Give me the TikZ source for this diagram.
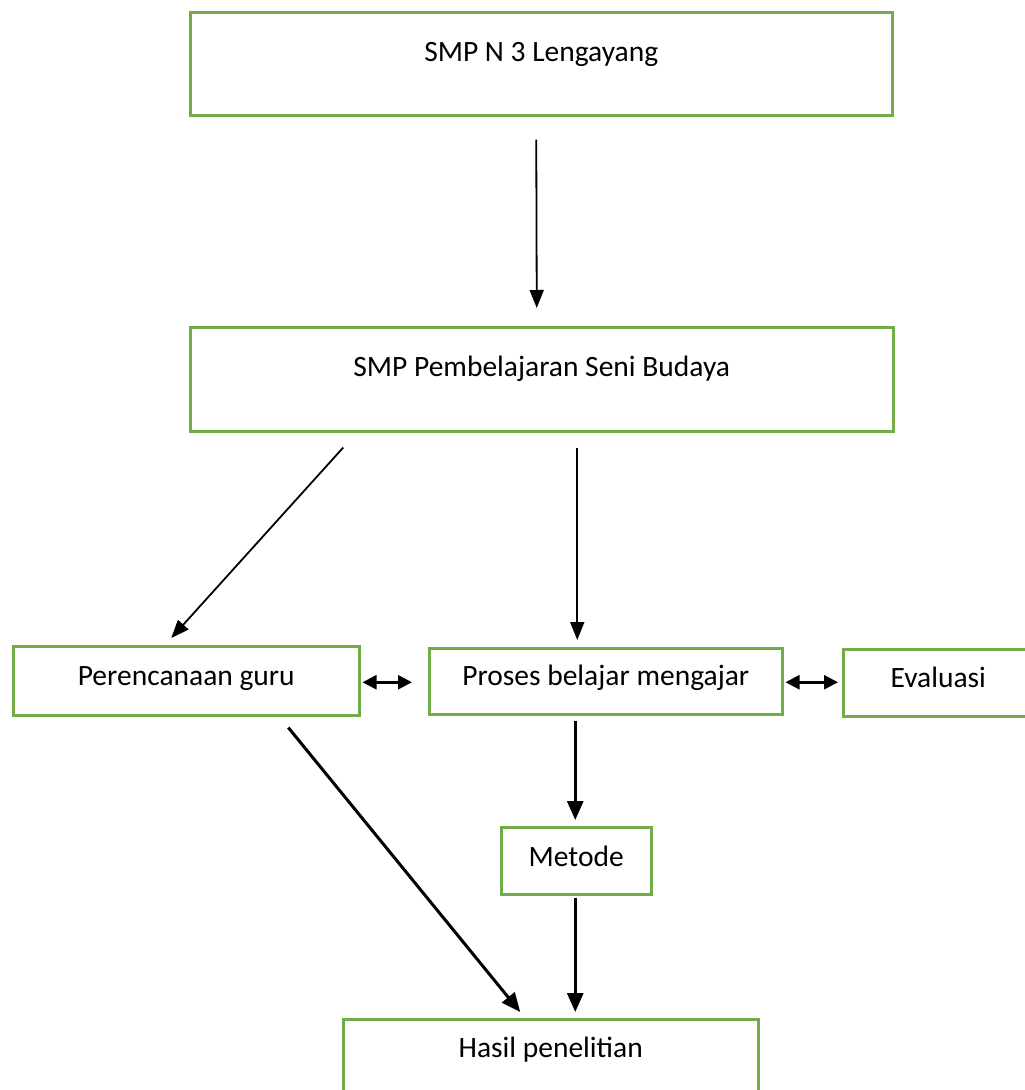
\documentclass[tikz,border=0pt]{standalone}
\usepackage{fontspec}
\setmainfont{Carlito}
\usetikzlibrary{arrows.meta}
\definecolor{boxgreen}{HTML}{70AD47}
\begin{document}
\begin{tikzpicture}[x=1pt,y=-1pt,
  box/.style={draw=boxgreen, line width=2.5pt, rectangle, inner sep=0pt, anchor=north west},
  lbl/.style={font=\fontsize{29.5}{35}\selectfont, anchor=base, inner sep=0pt},
  thinarr/.style={line width=1.8pt, -{Triangle[length=18pt,width=14pt]}},
  thickarr/.style={line width=3pt, -{Triangle[length=19pt,width=16pt]}},
  dblarr/.style={line width=2.5pt, {Triangle[length=14pt,width=14pt]}-{Triangle[length=14pt,width=14pt]}}]
\useasboundingbox (0,0) rectangle (1025,1090);
\clip (0,0) rectangle (1025,1090);

\node[box, minimum width=702pt, minimum height=103pt] (top) at (189,11) {};
\node[lbl] (ttop) at ([yshift=-50pt]top.north) {SMP N 3 Lengayang};

\node[box, minimum width=703pt, minimum height=104pt] (mid) at (189,326) {};
\node[lbl] (tmid) at ([yshift=-50pt]mid.north) {SMP Pembelajaran Seni Budaya};

\node[box, minimum width=346pt, minimum height=69pt] (perenc) at (12,645) {};
\node[lbl] (tperenc) at ([yshift=-40pt]perenc.north) {Perencanaan guru};

\node[box, minimum width=353pt, minimum height=66pt] (proses) at (428,647) {};
\node[lbl] (tproses) at ([yshift=-38pt]proses.north) {Proses belajar mengajar};

\node[box, minimum width=190pt, minimum height=67pt] (eval) at (842,648) {};
\node[lbl] (teval) at ([yshift=-39pt]eval.north) {Evaluasi};

\node[box, minimum width=150pt, minimum height=67pt] (metode) at (500,826) {};
\node[lbl] (tmetode) at ([yshift=-40pt]metode.north) {Metode};

\node[box, minimum width=415pt, minimum height=100pt] (hasil) at (342,1018) {};
\node[lbl] (thasil) at ([yshift=-39pt]hasil.north) {Hasil penelitian};

\draw[thinarr] ([xshift=-5pt,yshift=-23pt]top.south) -- ([xshift=-5pt,yshift=18pt]mid.north);
\draw[thinarr] ([xshift=-198.5pt,yshift=-15pt]mid.south) -- ([xshift=-15pt,yshift=7pt]perenc.north);
\draw[thinarr] ([xshift=35.5pt,yshift=-15pt]mid.south) -- ([xshift=-28.5pt,yshift=7pt]proses.north);
\draw[dblarr] ([xshift=2pt,yshift=-1.5pt]perenc.east) -- ([xshift=-16pt,yshift=-1pt]proses.west);
\draw[dblarr] ([xshift=2pt,yshift=-1pt]proses.east) -- ([xshift=-4pt,yshift=0.5pt]eval.west);
\draw[thickarr] ([xshift=-30.5pt,yshift=-5pt]proses.south) -- ([xshift=-1pt,yshift=6pt]metode.north);
\draw[thickarr] ([xshift=102pt,yshift=-11pt]perenc.south) -- ([xshift=-30.5pt,yshift=6pt]hasil.north);
\draw[thickarr] ([xshift=-1pt,yshift=-2pt]metode.south) -- ([xshift=24.5pt,yshift=6pt]hasil.north);
\end{tikzpicture}
\end{document}
